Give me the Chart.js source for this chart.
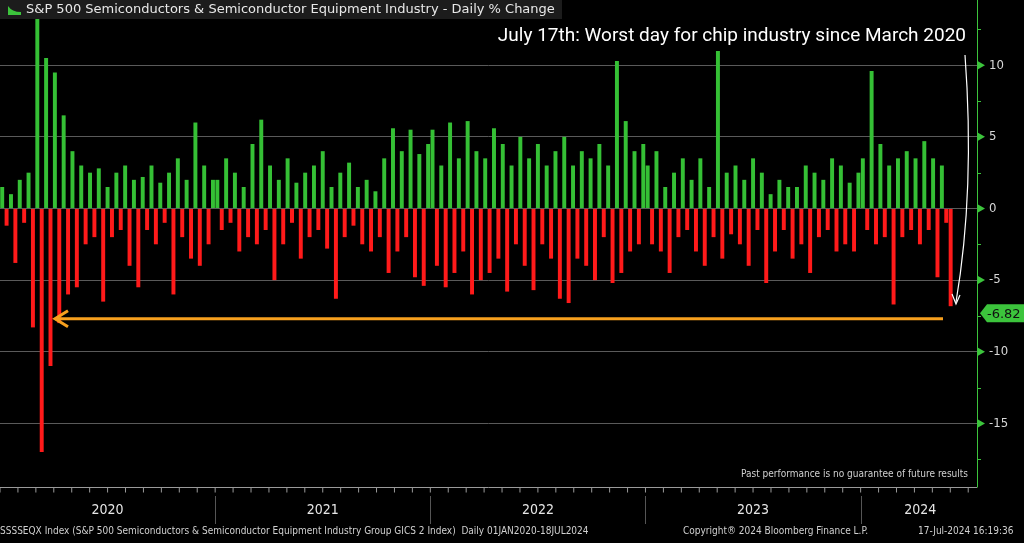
<!DOCTYPE html>
<html>
<head>
<meta charset="utf-8">
<script src="https://cdn.jsdelivr.net/npm/chart.js@4"></script>
<style>
  html, body { margin: 0; padding: 0; background: #000; }
  #wrap { width: 1024px; height: 543px; }
</style>
</head>
<body>
<div id="wrap"><canvas id="semiChart"></canvas></div>
<script>
// Variação diária (%), ~1 barra a cada ~4 px
const years = {
    2020: [1.5,-1.2,1.0,-3.8,2.0,-1.0,2.5,-8.3,13.5,-17.0,10.5,-11.0,9.5,-8.0,6.5,-6.0,4.0,-5.5,3.0,-2.5,2.5,-2.0,2.8,-6.5,1.5,-2.0,2.5,-1.5,3.0,-4.0,2.0,-5.5,2.2,-1.5,3.0,-2.5,1.8,-1.0,2.5,-6.0,3.5,-2.0,2.0,-3.5,6.0,-4.0,3.0,-2.5,2.0],
    2021: [2.0,-1.5,3.5,-1.0,2.5,-3.0,1.5,-2.0,4.5,-2.5,6.2,-1.5,3.0,-5.0,2.0,-2.5,3.5,-1.0,1.8,-3.5,2.5,-2.0,3.0,-1.5,4.0,-2.8,1.5,-6.3,2.5,-2.0,3.2,-1.2,1.5,-2.5,2.0,-3.0,1.2,-2.0,3.5,-4.5,5.6,-3.0,4.0,-2.0,5.5,-4.8,3.8,-5.4,4.5],
    2022: [5.5,-4.0,3.0,-5.5,6.0,-4.5,3.5,-3.0,6.1,-6.0,4.0,-5.0,3.5,-4.5,5.6,-3.5,4.5,-5.8,3.0,-2.5,5.0,-4.0,3.5,-5.7,4.5,-2.5,3.0,-3.5,4.0,-6.3,5.0,-6.6,3.0,-3.5,4.0,-4.0,3.5,-5.0,4.5,-2.0,3.0,-5.2,10.3,-4.5,6.1,-3.0,4.0,-2.5,4.5],
    2023: [3.0,-2.5,4.0,-3.0,1.5,-4.5,2.5,-2.0,3.5,-1.5,2.0,-3.0,3.5,-4.0,1.5,-2.0,11.0,-3.5,2.5,-1.8,3.0,-2.5,2.0,-4.0,3.5,-1.5,2.5,-5.2,1.0,-3.0,2.0,-1.5,1.5,-3.5,1.5,-2.5,3.0,-4.5,2.5,-2.0,2.0,-1.5,3.5,-3.0,3.0,-2.5,1.8,-3.0,2.5],
    2024: [3.5,-1.5,9.6,-2.5,4.5,-2.0,3.0,-6.7,3.5,-2.0,4.0,-1.5,3.5,-2.5,4.7,-1.5,3.5,-4.8,3.0,-1.0,-6.82]
};
const perYear = 49;
const values = [].concat(years[2020], years[2021], years[2022], years[2023], years[2024]);
const dataPoints = values.map((v, i) => ({ x: i + 0.5, y: v }));
const lastValue = values[values.length - 1];
const xMax = 222.5;

const decor = {
    id: 'decor',
    beforeDraw(chart) {
        const { ctx } = chart;
        ctx.save();
        ctx.fillStyle = '#000';
        ctx.fillRect(0, 0, chart.width, chart.height);
        ctx.restore();
    },
    afterDraw(chart) {
        const { ctx, chartArea: a, scales: { x, y } } = chart;
        const axisY = 487.5;
        ctx.save();
        // eixo x
        ctx.strokeStyle = '#9a9a9a';
        ctx.lineWidth = 1;
        ctx.beginPath();
        ctx.moveTo(0, axisY); ctx.lineTo(a.right, axisY);
        for (let m = 0; m <= 54; m++) {
            const px = x.getPixelForValue(m * perYear / 12);
            if (px > a.right) break;
            ctx.moveTo(px, axisY); ctx.lineTo(px, axisY + 5);
        }
        ctx.stroke();
        // anos
        ctx.fillStyle = '#e6e6e6';
        ctx.font = '14px "Liberation Sans Narrow", "DejaVu Sans Condensed", sans-serif';
        ctx.textAlign = 'center';
        ctx.textBaseline = 'middle';
        ['2020', '2021', '2022', '2023'].forEach((t, k) => {
            ctx.fillText(t, x.getPixelForValue(k * perYear + perYear / 2), 510);
        });
        ctx.fillText('2024', x.getPixelForValue(209.6), 510);
        ctx.strokeStyle = '#555';
        ctx.beginPath();
        for (let k = 1; k <= 4; k++) {
            const px = Math.round(x.getPixelForValue(k * perYear)) + 0.5;
            ctx.moveTo(px, 496); ctx.lineTo(px, 524);
        }
        ctx.stroke();
        // rodapé
        ctx.font = '10px "Liberation Sans Narrow", "DejaVu Sans Condensed", sans-serif';
        ctx.fillStyle = '#d0d0d0';
        ctx.textAlign = 'left';
        ctx.fillText('SSSSEQX Index (S&P 500 Semiconductors & Semiconductor Equipment Industry Group GICS 2 Index)  Daily 01JAN2020-18JUL2024', 0, 531);
        ctx.fillText('Copyright\u00ae 2024 Bloomberg Finance L.P.', 683, 531);
        ctx.fillText('17-Jul-2024 16:19:36', 918, 531);
        ctx.textAlign = 'right';
        ctx.fillText('Past performance is no guarantee of future results', 968, 474);
        // barra de título
        ctx.fillStyle = '#1c1c1c';
        ctx.fillRect(0, 0, 562, 19);
        ctx.fillStyle = '#3cc43c';
        ctx.beginPath();
        ctx.moveTo(8, 15); ctx.lineTo(8, 6); ctx.quadraticCurveTo(12, 12, 21, 12); ctx.lineTo(21, 15); ctx.closePath();
        ctx.fill();
        ctx.fillStyle = '#e8e8e8';
        ctx.font = '13px "DejaVu Sans", sans-serif';
        ctx.textAlign = 'left';
        ctx.fillText('S&P 500 Semiconductors & Semiconductor Equipment Industry - Daily % Change', 26, 9.5);
        // anotação
        ctx.fillStyle = '#ffffff';
        ctx.font = '19px Roboto, sans-serif';
        ctx.textAlign = 'right';
        ctx.fillText('July 17th: Worst day for chip industry since March 2020', 966, 36);
        // seta curva branca
        ctx.strokeStyle = '#ffffff';
        ctx.lineWidth = 1.2;
        ctx.beginPath();
        ctx.moveTo(965, 55);
        ctx.quadraticCurveTo(975, 190, 956, 302);
        ctx.stroke();
        ctx.beginPath();
        ctx.moveTo(952, 294); ctx.lineTo(956, 304); ctx.lineTo(960, 295);
        ctx.stroke();
        // seta laranja
        const yArrow = y.getPixelForValue(-7.7);
        ctx.strokeStyle = '#f7a01e';
        ctx.lineWidth = 3;
        ctx.beginPath();
        ctx.moveTo(943, yArrow); ctx.lineTo(55, yArrow);
        ctx.stroke();
        ctx.beginPath();
        ctx.moveTo(68, yArrow - 8); ctx.lineTo(55, yArrow); ctx.lineTo(68, yArrow + 8);
        ctx.stroke();
        // eixo y: linha e marcadores
        ctx.strokeStyle = '#3cc43c';
        ctx.lineWidth = 1;
        ctx.beginPath();
        ctx.moveTo(a.right + 0.5, 0); ctx.lineTo(a.right + 0.5, axisY);
        for (let v = -17.5; v <= 12.5; v += 5) {
            const py = Math.round(y.getPixelForValue(v)) + 0.5;
            ctx.moveTo(a.right, py); ctx.lineTo(a.right + 4, py);
        }
        ctx.stroke();
        ctx.fillStyle = '#3cc43c';
        for (let v = -15; v <= 10; v += 5) {
            const py = y.getPixelForValue(v);
            ctx.beginPath();
            ctx.moveTo(a.right + 1, py - 4); ctx.lineTo(a.right + 8, py); ctx.lineTo(a.right + 1, py + 4);
            ctx.fill();
        }
        // etiqueta do último valor
        const py = y.getPixelForValue(lastValue) + 7;
        ctx.beginPath();
        ctx.moveTo(a.right + 3, py);
        ctx.lineTo(a.right + 10, py - 9);
        ctx.lineTo(1024, py - 9);
        ctx.lineTo(1024, py + 9);
        ctx.lineTo(a.right + 10, py + 9);
        ctx.closePath();
        ctx.fill();
        ctx.fillStyle = '#111';
        ctx.font = '13px "DejaVu Sans", sans-serif';
        ctx.textAlign = 'left';
        ctx.fillText(lastValue.toFixed(2), a.right + 10, py + 1);
        ctx.restore();
    }
};

const chartContext = document.getElementById('semiChart').getContext('2d');
const semiChart = new Chart(chartContext, {
    type: 'bar',
    data: {
        datasets: [{
            data: dataPoints,
            backgroundColor: values.map(v => v >= 0 ? '#35c035' : '#ff1a1a'),
            barPercentage: 0.9,
            categoryPercentage: 1,
            clip: false
        }]
    },
    options: {
        responsive: true,
        maintainAspectRatio: false,
        animation: false,
        layout: { padding: { top: 0, bottom: 58, left: 0, right: 0 } },
        plugins: { legend: { display: false }, tooltip: { enabled: false } },
        scales: {
            x: { type: 'linear', min: 0, max: xMax, display: false, offset: false },
            y: {
                position: 'right',
                min: -19.3, max: 13.17,
                afterFit: (s) => { s.width = 47; },
                afterBuildTicks: (s) => { s.ticks = [-15, -10, -5, 0, 5, 10].map(v => ({ value: v })); },
                border: { display: false },
                grid: { color: '#5a5a5a', lineWidth: 1, drawTicks: false },
                ticks: { color: '#d8d8d8', padding: 12, font: { size: 13, family: '"DejaVu Sans Condensed", sans-serif' } }
            }
        }
    },
    plugins: [decor]
});
</script>
</body>
</html>
